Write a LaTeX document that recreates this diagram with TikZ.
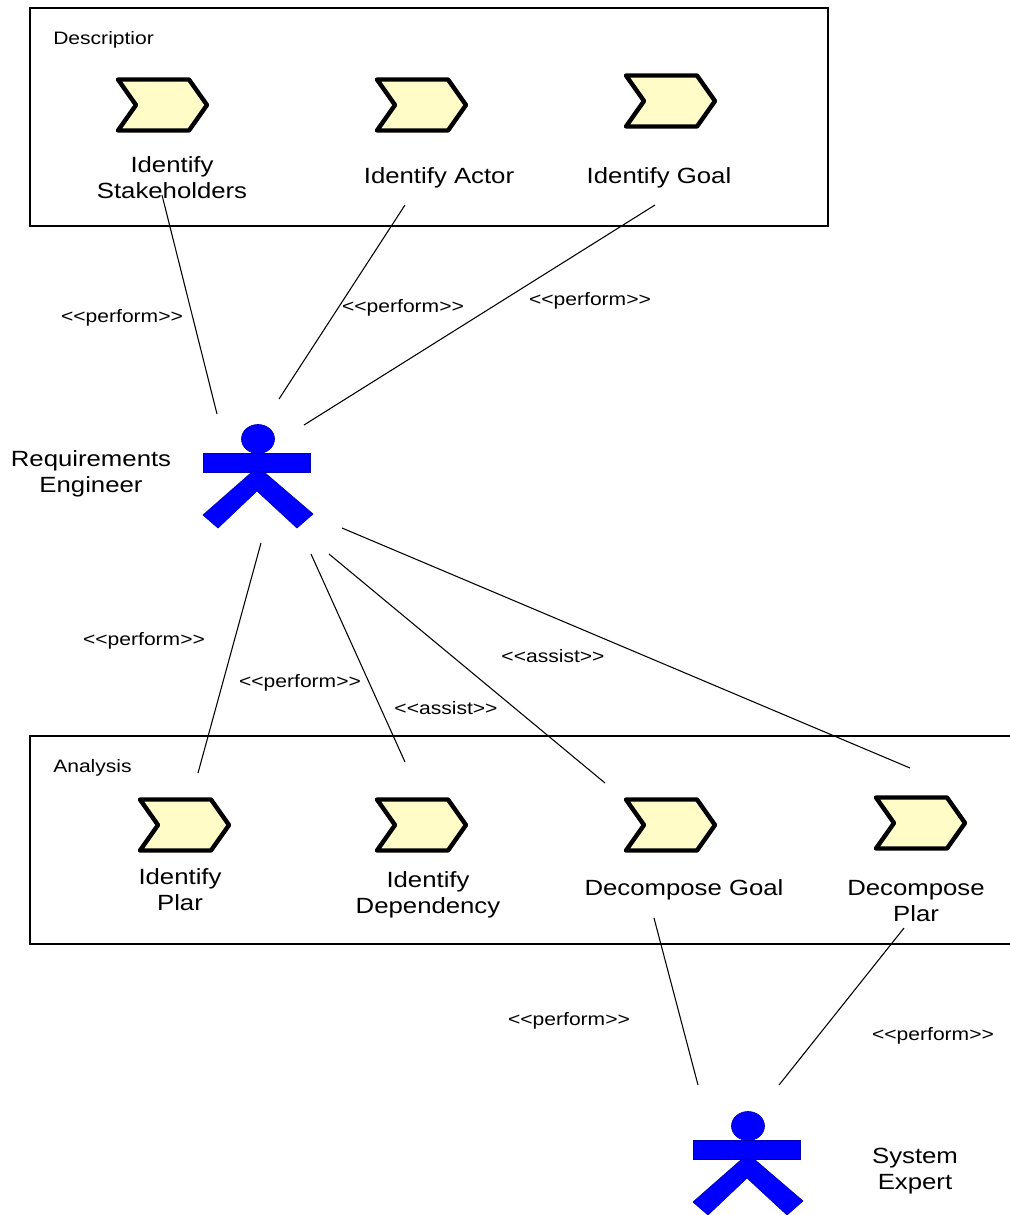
\documentclass[tikz,border=0pt]{standalone}
\usepackage{fontspec}
\setmainfont{Liberation Sans}
\newfontfamily\wideF[FakeStretch=1.17]{Liberation Sans}
\newcommand{\chev}[2]{%
  \coordinate (#1) at #2;
  \begin{scope}[shift={#2}]
    \draw[taskshape] (-44,-25.5) -- (27,-25.5) -- (45,0) -- (27,25.5) -- (-44,25.5) -- (-26,0) -- cycle;
  \end{scope}}
\newcommand{\actor}[2]{%
  \coordinate (#1) at #2;
  \begin{scope}[shift={#2}]
    \draw[actorshape] (0,-37) circle[x radius=16.5,y radius=14.5];
    \draw[actorshape] (-55,-23) rectangle (52,-4);
    \draw[actorshape] (-6,-4) -- (6,-4) -- (55,38) -- (39,52) -- (-1,15) -- (-40,52) -- (-55,39) -- cycle;
  \end{scope}}
\tikzset{
  x=0.75pt,y=-0.75pt,
  taskshape/.style={draw=black,fill=yellow!22,line width=3.3pt,line join=round},
  actorshape/.style={draw=blue!70!black,fill=blue,line width=0.5pt},
  pkgbox/.style={draw=black,line width=0.8pt},
  link/.style={draw=black,line width=0.8pt},
  biglabel/.style={font=\wideF\fontsize{16.5}{19.5}\selectfont,align=center,inner sep=0pt},
  smalllabel/.style={font=\wideF\fontsize{13.5}{16}\selectfont,align=center,inner sep=0pt},
}
\begin{document}
\begin{tikzpicture}
\useasboundingbox (0,0) rectangle (1010,1215);
\fill[white] (0,0) rectangle (1010,1215);
\draw[pkgbox] (30,8) rectangle (828,226);
\draw[pkgbox] (1010,736) -- (30,736) -- (30,944) -- (1010,944);
\node[smalllabel,anchor=west] (desc) at (53,40) {Descriptior};
\node[smalllabel,anchor=west] (anal) at (53,768) {Analysis};
\chev{t1}{(162,105)}
\chev{t2}{(421,105)}
\chev{t3}{(670,101)}
\chev{t4}{(184,825)}
\chev{t5}{(421,825)}
\chev{t6}{(670,825)}
\chev{t7}{(920,823)}
\node[biglabel] (l1) at (172,178) {Identify\\Stakeholders};
\node[biglabel] (l2) at (439,178) {Identify Actor};
\node[biglabel] (l3) at (659,178) {Identify Goal};
\node[biglabel] (l4) at (180,890) {Identify\\Plar};
\node[biglabel] (l5) at (428,895) {Identify\\Dependency};
\node[biglabel] (l6) at (684,890) {Decompose Goal};
\node[biglabel] (l7) at (916,901) {Decompose\\Plar};
\actor{re}{(258,476)}
\actor{se}{(748,1163)}
\node[biglabel] (rel) at (91,474) {Requirements\\Engineer};
\node[biglabel] (sel) at (915,1171) {System\\Expert};
\coordinate (a1) at (162,195); \coordinate (b1) at (217,414);
\coordinate (a2) at (405,205); \coordinate (b2) at (279,399);
\coordinate (a3) at (655,205); \coordinate (b3) at (304,425);
\coordinate (a4) at (198,773); \coordinate (b4) at (261,543);
\coordinate (a5) at (405,762); \coordinate (b5) at (311,554);
\coordinate (a6) at (605,783); \coordinate (b6) at (329,554);
\coordinate (a7) at (910,768); \coordinate (b7) at (342,528);
\coordinate (a8) at (654,918); \coordinate (b8) at (698,1085);
\coordinate (a9) at (904,928); \coordinate (b9) at (779,1085);
\foreach \i in {1,...,9} {\draw[link] (a\i) -- (b\i);}
\node[smalllabel] (p1) at (122,318) {<{}<perform>{}>};
\node[smalllabel] (p2) at (403,308) {<{}<perform>{}>};
\node[smalllabel] (p3) at (590,301) {<{}<perform>{}>};
\node[smalllabel] (p4) at (144,641) {<{}<perform>{}>};
\node[smalllabel] (p5) at (300,683) {<{}<perform>{}>};
\node[smalllabel] (p6) at (446,708) {<{}<assist>{}>};
\node[smalllabel] (p7) at (553,656) {<{}<assist>{}>};
\node[smalllabel] (p8) at (569,1021) {<{}<perform>{}>};
\node[smalllabel] (p9) at (933,1036) {<{}<perform>{}>};
\end{tikzpicture}
\end{document}
